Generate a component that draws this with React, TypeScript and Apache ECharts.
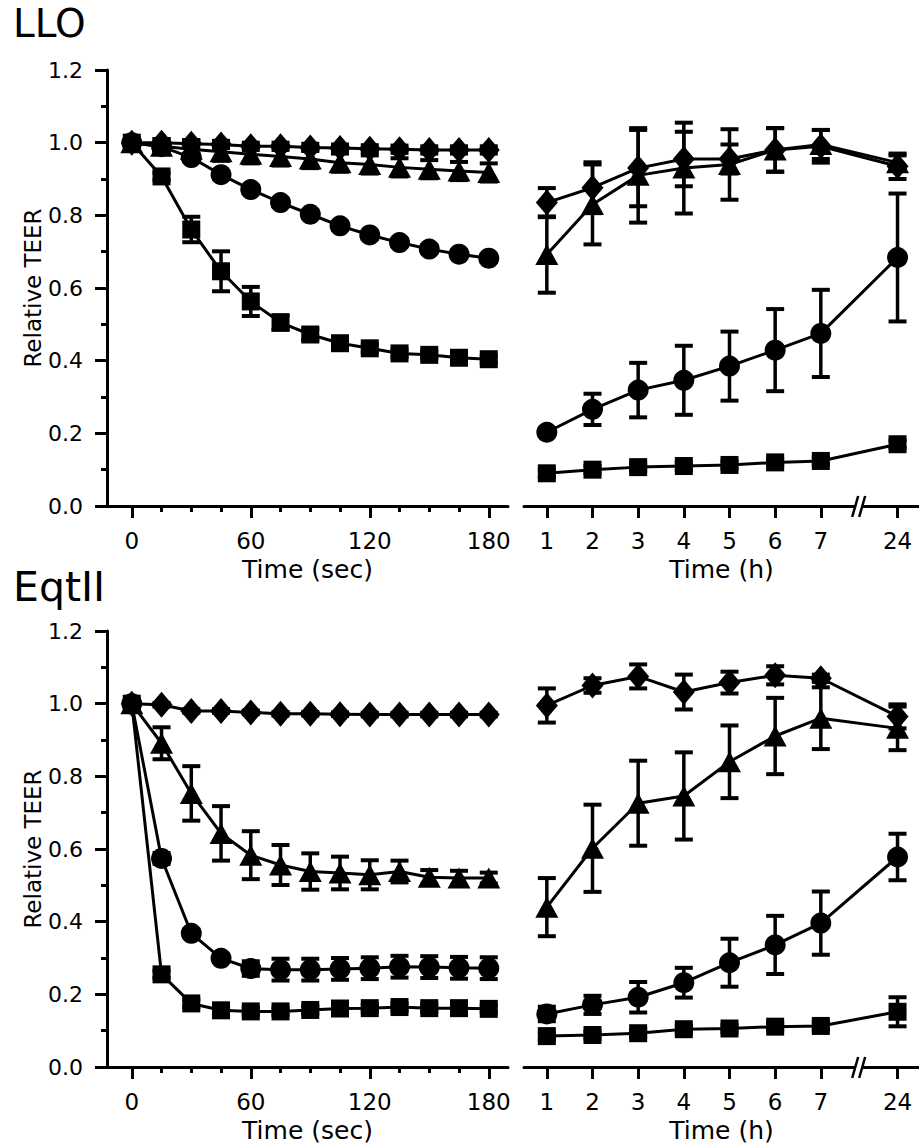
import React, { useEffect, useRef } from "react";
import * as echarts from "echarts";

// ---- axes / categories ----
const secTimes = [0, 15, 30, 45, 60, 75, 90, 105, 120, 135, 150, 165, 180];
const secMajorTicks = [0, 60, 120, 180];
const secMinorTicks = [15, 30, 45, 75, 90, 105, 135, 150, 165];
const hourTimes = [1, 2, 3, 4, 5, 6, 7, 24];
const panelTitles = ["LLO", "EqtII"];

// ---- LLO, seconds ----
const lloSecSquare = [1.0, 0.907, 0.761, 0.646, 0.563, 0.505, 0.472, 0.448, 0.434, 0.42, 0.416, 0.408, 0.404];
const lloSecSquareErr = [0, 0.01, 0.035, 0.055, 0.04, 0.02, 0.015, 0.01, 0.01, 0.01, 0.01, 0.01, 0.01];
const lloSecCircle = [1.0, 0.989, 0.959, 0.912, 0.871, 0.835, 0.803, 0.771, 0.746, 0.725, 0.707, 0.693, 0.682];
const lloSecCircleErr = [0, 0.01, 0.01, 0.01, 0.01, 0.01, 0.01, 0.01, 0.01, 0.01, 0.01, 0.01, 0.01];
const lloSecTriangle = [1.0, 0.99, 0.982, 0.975, 0.968, 0.962, 0.955, 0.945, 0.94, 0.932, 0.927, 0.922, 0.918];
const lloSecTriangleErr = [0, 0.02, 0.025, 0.025, 0.025, 0.025, 0.025, 0.025, 0.025, 0.025, 0.025, 0.025, 0.025];
const lloSecDiamond = [1.0, 1.0, 0.997, 0.995, 0.99, 0.99, 0.987, 0.985, 0.983, 0.982, 0.98, 0.98, 0.98];
const lloSecDiamondErr = [0, 0.01, 0.01, 0.01, 0.01, 0.01, 0.01, 0.01, 0.01, 0.01, 0.01, 0.01, 0.01];

// ---- LLO, hours ----
const lloHourSquare = [0.09, 0.1, 0.107, 0.11, 0.113, 0.12, 0.124, 0.17];
const lloHourSquareErr = [0.01, 0.01, 0.01, 0.01, 0.01, 0.01, 0.01, 0.01];
const lloHourCircle = [0.203, 0.266, 0.319, 0.346, 0.385, 0.429, 0.475, 0.684];
const lloHourCircleErr = [0.01, 0.043, 0.075, 0.095, 0.095, 0.113, 0.12, 0.176];
const lloHourTriangle = [0.692, 0.83, 0.91, 0.93, 0.94, 0.98, 0.995, 0.945];
const lloHourTriangleErr = [0.105, 0.11, 0.13, 0.125, 0.097, 0.06, 0.04, 0.02];
const lloHourDiamond = [0.835, 0.876, 0.93, 0.955, 0.955, 0.98, 0.99, 0.935];
const lloHourDiamondErr = [0.04, 0.07, 0.105, 0.075, 0.04, 0.06, 0.045, 0.035];

// ---- EqtII, seconds ----
const eqSecSquare = [1.0, 0.255, 0.175, 0.156, 0.153, 0.153, 0.157, 0.161, 0.162, 0.165, 0.162, 0.162, 0.16];
const eqSecSquareErr = [0, 0.01, 0.01, 0.01, 0.01, 0.01, 0.01, 0.01, 0.01, 0.01, 0.01, 0.01, 0.01];
const eqSecCircle = [1.0, 0.574, 0.368, 0.299, 0.271, 0.268, 0.268, 0.27, 0.272, 0.276, 0.275, 0.273, 0.272];
const eqSecCircleErr = [0, 0.015, 0.01, 0.01, 0.02, 0.03, 0.03, 0.03, 0.03, 0.03, 0.03, 0.03, 0.03];
const eqSecTriangle = [1.0, 0.891, 0.753, 0.643, 0.583, 0.556, 0.538, 0.534, 0.529, 0.538, 0.522, 0.52, 0.52];
const eqSecTriangleErr = [0, 0.044, 0.075, 0.075, 0.066, 0.055, 0.05, 0.045, 0.04, 0.03, 0.02, 0.02, 0.015];
const eqSecDiamond = [1.0, 0.997, 0.98, 0.98, 0.976, 0.972, 0.972, 0.971, 0.97, 0.97, 0.97, 0.97, 0.97];
const eqSecDiamondErr = [0, 0.005, 0.005, 0.005, 0.005, 0.005, 0.005, 0.005, 0.005, 0.005, 0.005, 0.005, 0.005];

// ---- EqtII, hours ----
const eqHourSquare = [0.085, 0.088, 0.093, 0.104, 0.106, 0.111, 0.113, 0.152];
const eqHourSquareErr = [0.01, 0.01, 0.01, 0.01, 0.01, 0.01, 0.01, 0.04];
const eqHourCircle = [0.146, 0.171, 0.192, 0.232, 0.287, 0.336, 0.396, 0.578];
const eqHourCircleErr = [0.02, 0.025, 0.042, 0.041, 0.066, 0.08, 0.087, 0.064];
const eqHourTriangle = [0.44, 0.602, 0.726, 0.746, 0.84, 0.911, 0.96, 0.932];
const eqHourTriangleErr = [0.08, 0.12, 0.117, 0.12, 0.1, 0.105, 0.085, 0.06];
const eqHourDiamond = [0.995, 1.05, 1.075, 1.032, 1.058, 1.078, 1.07, 0.965];
const eqHourDiamondErr = [0.047, 0.02, 0.033, 0.048, 0.03, 0.025, 0.01, 0.033];

// broken hour axis: 24 h is drawn just after 7 h
const BREAK_POS = 8.68;
const hourPos = (h: number) => (h === 24 ? BREAK_POS : h);

const FONT = "DejaVu Sans";
const BLACK = "#000";

const SYMBOLS: Record<string, { symbol: string; size: number | number[] }> = {
  square: { symbol: "rect", size: 18 },
  circle: { symbol: "circle", size: 21 },
  triangle: { symbol: "triangle", size: [23, 21] },
  diamond: { symbol: "diamond", size: [22, 26] },
};

function lineSeries(xi: number, xs: number[], ys: number[], shape: string) {
  const s = SYMBOLS[shape];
  return {
    type: "line",
    xAxisIndex: xi,
    yAxisIndex: xi,
    data: xs.map((x, i) => [x, ys[i]]),
    symbol: s.symbol,
    symbolSize: s.size,
    showSymbol: true,
    showAllSymbol: true,
    lineStyle: { color: BLACK, width: 3 },
    itemStyle: { color: BLACK, borderWidth: 0 },
    z: 3,
    silent: true,
  };
}

function errSeries(xi: number, xs: number[], ys: number[], errs: number[]) {
  const data = xs
    .map((x, i) => [x, ys[i] - errs[i], ys[i] + errs[i]])
    .filter((_, i) => errs[i] > 0);
  return {
    type: "custom",
    xAxisIndex: xi,
    yAxisIndex: xi,
    data,
    encode: { x: 0, y: [1, 2] },
    z: 2,
    silent: true,
    renderItem: (_params: any, api: any) => {
      const x = api.value(0);
      const lo = api.coord([x, api.value(1)]);
      const hi = api.coord([x, api.value(2)]);
      const hw = 9;
      return {
        type: "group",
        children: [
          { type: "line", shape: { x1: hi[0], y1: hi[1], x2: lo[0], y2: lo[1] }, style: { stroke: BLACK, lineWidth: 3.5 } },
          { type: "line", shape: { x1: hi[0] - hw, y1: hi[1], x2: hi[0] + hw, y2: hi[1] }, style: { stroke: BLACK, lineWidth: 4 } },
          { type: "line", shape: { x1: lo[0] - hw, y1: lo[1], x2: lo[0] + hw, y2: lo[1] }, style: { stroke: BLACK, lineWidth: 4 } },
        ],
      };
    },
  };
}

const GRID_TOPS = [70, 631];
const GRID_H = 436;

export default function App() {
  const ref = useRef<HTMLDivElement>(null);
  useEffect(() => {
    document.body.style.margin = "0";
    if (!ref.current) return;
    const chart = echarts.init(ref.current, null, { renderer: "svg" });

    const grids: any[] = [];
    const xAxes: any[] = [];
    const yAxes: any[] = [];
    GRID_TOPS.forEach((top) => {
      grids.push({ left: 107, top, width: 401, height: GRID_H });
      grids.push({ left: 524, top, width: 395, height: GRID_H });
    });

    const axisLine = { show: true, onZero: false, lineStyle: { color: BLACK, width: 3 } };
    const xLabel = { color: BLACK, fontSize: 23, fontFamily: FONT, margin: 23 };
    const nameStyle = { color: BLACK, fontSize: 25, fontFamily: FONT };

    for (let p = 0; p < 2; p++) {
      const gSec = p * 2;
      const gHour = p * 2 + 1;
      xAxes[gSec] = {
        type: "value",
        gridIndex: gSec,
        position: "bottom",
        min: -12.5,
        max: 189.7,
        axisLine,
        axisTick: { show: true, customValues: secMajorTicks, length: 12, lineStyle: { color: BLACK, width: 3 } },
        axisLabel: { ...xLabel, customValues: secMajorTicks },
        splitLine: { show: false },
        name: "Time (sec)",
        nameLocation: "middle",
        nameGap: 51,
        nameTextStyle: nameStyle,
      };
      xAxes[gHour] = {
        type: "value",
        gridIndex: gHour,
        position: "bottom",
        min: 0.5,
        max: 9.15,
        axisLine,
        axisTick: { show: true, customValues: hourTimes.map(hourPos), length: 12, lineStyle: { color: BLACK, width: 3 } },
        axisLabel: {
          ...xLabel,
          customValues: hourTimes.map(hourPos),
          formatter: (v: number) => (Math.abs(v - BREAK_POS) < 1e-6 ? "24" : String(Math.round(v))),
        },
        splitLine: { show: false },
        name: "Time (h)",
        nameLocation: "middle",
        nameGap: 51,
        nameTextStyle: nameStyle,
      };
      yAxes[gSec] = {
        type: "value",
        gridIndex: gSec,
        min: 0,
        max: 1.2,
        interval: 0.2,
        axisLine,
        axisTick: { show: true, length: 12, lineStyle: { color: BLACK, width: 3 } },
        minorTick: { show: true, splitNumber: 2, length: 6, lineStyle: { color: BLACK, width: 3 } },
        axisLabel: { color: BLACK, fontSize: 22, fontFamily: FONT, margin: 24, formatter: (v: number) => v.toFixed(1) },
        splitLine: { show: false },
        minorSplitLine: { show: false },
        name: "Relative TEER",
        nameLocation: "middle",
        nameGap: 60,
        nameTextStyle: { color: BLACK, fontSize: 23, fontFamily: FONT },
      };
      yAxes[gHour] = { type: "value", gridIndex: gHour, min: 0, max: 1.2, show: false };
    }
    // minor tick axes for the seconds panels
    [0, 2].forEach((g) => {
      xAxes.push({
        type: "value",
        gridIndex: g,
        position: "bottom",
        min: -12.5,
        max: 189.7,
        axisLine: { show: false, onZero: false },
        axisTick: { show: true, customValues: secMinorTicks, length: 6, lineStyle: { color: BLACK, width: 3 } },
        axisLabel: { show: false },
        splitLine: { show: false },
      });
    });

    const hx = hourTimes.map(hourPos);
    const series: any[] = [
      errSeries(0, secTimes, lloSecSquare, lloSecSquareErr),
      errSeries(0, secTimes, lloSecCircle, lloSecCircleErr),
      errSeries(0, secTimes, lloSecTriangle, lloSecTriangleErr),
      errSeries(0, secTimes, lloSecDiamond, lloSecDiamondErr),
      lineSeries(0, secTimes, lloSecSquare, "square"),
      lineSeries(0, secTimes, lloSecCircle, "circle"),
      lineSeries(0, secTimes, lloSecTriangle, "triangle"),
      lineSeries(0, secTimes, lloSecDiamond, "diamond"),
      errSeries(1, hx, lloHourSquare, lloHourSquareErr),
      errSeries(1, hx, lloHourCircle, lloHourCircleErr),
      errSeries(1, hx, lloHourTriangle, lloHourTriangleErr),
      errSeries(1, hx, lloHourDiamond, lloHourDiamondErr),
      lineSeries(1, hx, lloHourSquare, "square"),
      lineSeries(1, hx, lloHourCircle, "circle"),
      lineSeries(1, hx, lloHourTriangle, "triangle"),
      lineSeries(1, hx, lloHourDiamond, "diamond"),
      errSeries(2, secTimes, eqSecSquare, eqSecSquareErr),
      errSeries(2, secTimes, eqSecCircle, eqSecCircleErr),
      errSeries(2, secTimes, eqSecTriangle, eqSecTriangleErr),
      errSeries(2, secTimes, eqSecDiamond, eqSecDiamondErr),
      lineSeries(2, secTimes, eqSecSquare, "square"),
      lineSeries(2, secTimes, eqSecCircle, "circle"),
      lineSeries(2, secTimes, eqSecTriangle, "triangle"),
      lineSeries(2, secTimes, eqSecDiamond, "diamond"),
      errSeries(3, hx, eqHourSquare, eqHourSquareErr),
      errSeries(3, hx, eqHourCircle, eqHourCircleErr),
      errSeries(3, hx, eqHourTriangle, eqHourTriangleErr),
      errSeries(3, hx, eqHourDiamond, eqHourDiamondErr),
      lineSeries(3, hx, eqHourSquare, "square"),
      lineSeries(3, hx, eqHourCircle, "circle"),
      lineSeries(3, hx, eqHourTriangle, "triangle"),
      lineSeries(3, hx, eqHourDiamond, "diamond"),
    ];

    chart.setOption({
      animation: false,
      backgroundColor: "#fff",
      title: [
        { text: panelTitles[0], left: 13, top: 4, padding: 0, textStyle: { color: BLACK, fontSize: 39, fontWeight: "normal", fontFamily: FONT } },
        { text: panelTitles[1], left: 13, top: 566, padding: 0, textStyle: { color: BLACK, fontSize: 41, fontWeight: "normal", fontFamily: FONT } },
      ],
      grid: grids,
      xAxis: xAxes,
      yAxis: yAxes,
      series,
    });

    // axis-break marks on the hour axes, placed through the axis scale
    const graphics: any[] = [];
    [1, 3].forEach((g) => {
      const pt = chart.convertToPixel({ gridIndex: g } as any, [7.84, 0]) as number[];
      if (!pt) return;
      const [cx, cy] = pt;
      graphics.push({
        type: "polygon",
        shape: { points: [[cx - 5, cy + 6], [cx + 1, cy + 6], [cx + 5, cy - 6], [cx - 1, cy - 6]] },
        style: { fill: "#fff" },
        z: 10,
      });
      graphics.push({ type: "line", shape: { x1: cx - 7, y1: cy + 11, x2: cx - 1, y2: cy - 10 }, style: { stroke: BLACK, lineWidth: 2.5 }, z: 11 });
      graphics.push({ type: "line", shape: { x1: cx + 0, y1: cy + 11, x2: cx + 6, y2: cy - 10 }, style: { stroke: BLACK, lineWidth: 2.5 }, z: 11 });
    });
    chart.setOption({ graphic: graphics });

    return () => chart.dispose();
  }, []);
  return <div ref={ref} style={{ width: 919, height: 1147 }} />;
}
